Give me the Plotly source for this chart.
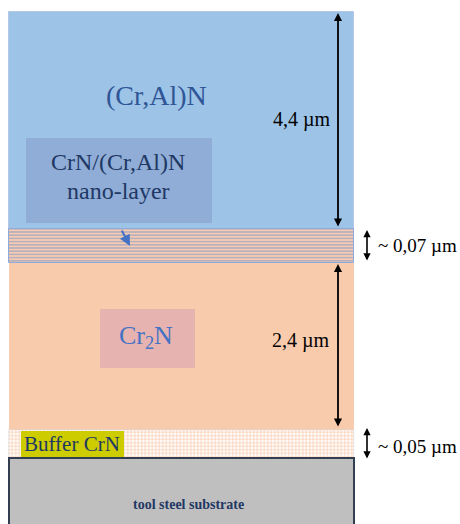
import plotly.graph_objects as go

# ---- data (diagram units: pixels of the schematic, y downward) ----
layer_names = ["(Cr,Al)N", "CrN/(Cr,Al)N nano-layer", "Cr2N", "Buffer CrN", "tool steel substrate"]
layer_top = [12, 229, 263, 430, 458]
layer_bottom = [229, 263, 430, 458, 530]
thickness_labels = ["4,4 µm", "~ 0,07 µm", "2,4 µm", "~ 0,05 µm"]

FONT = "Liberation Serif"
X0, X1 = 9, 354
xc = (X0 + X1) / 2
w = X1 - X0

fig = go.Figure()

def layer_bar(i, color, line_color, line_width, pattern=None):
    kw = dict(
        x=[xc], y=[layer_bottom[i] - layer_top[i]], base=[layer_top[i]], width=[w],
        marker=dict(color=color, line=dict(color=line_color, width=line_width)),
        showlegend=False, hoverinfo="skip", name=layer_names[i],
    )
    if pattern:
        kw["marker"]["pattern"] = pattern
    fig.add_trace(go.Bar(**kw))

layer_bar(0, "#9DC3E6", "#B4C7E7", 1)
layer_bar(1, "#F8CBAD", "#8FAADC", 1,
          dict(shape="-", fgcolor="#7196D6", bgcolor="#F8CBAD", size=3.2, solidity=0.5))
layer_bar(2, "#F8CBAD", "#F8CBAD", 0)
layer_bar(3, "#FFFFFF", "#D0CECE", 0.5,
          dict(shape=".", fgcolor="#F6B48A", bgcolor="#FFFFFF", size=3.5, solidity=0.6))
layer_bar(4, "#BFBFBF", "#333F50", 2)

shapes = [
    # nano-layer label box
    dict(type="rect", x0=26, x1=212, y0=138, y1=223, fillcolor="#8FADD6", line=dict(width=0), layer="above"),
    # Cr2N box
    dict(type="rect", x0=100, x1=195, y0=309, y1=368, fillcolor="#E6B3B0", line=dict(width=0), layer="above"),
    # yellow buffer label
    dict(type="rect", x0=21, x1=124, y0=431, y1=457, fillcolor="#CCCC00", line=dict(width=0), layer="above"),
]

ann = []
def txt(x, y, s, size, color="#000000", xanchor="center", bold=False):
    if bold:
        s = "<b>" + s + "</b>"
    ann.append(dict(x=x, y=y, text=s, showarrow=False, xanchor=xanchor, yanchor="middle",
                    font=dict(family=FONT, size=size, color=color)))

def darrow(x, y0, y1, width=2, head=0.9):
    # double-headed arrow
    ann.append(dict(x=x, y=y1, ax=x, ay=y0, axref="x", ayref="y", xref="x", yref="y",
                    text="", showarrow=True, arrowhead=2, arrowsize=head, arrowwidth=width,
                    arrowside="end+start", arrowcolor="#000000"))

txt(156, 95, layer_names[0], 28, "#2F5597")
txt(118, 162, "CrN/(Cr,Al)N", 24, "#1F3864")
txt(118, 191, "nano-layer", 24, "#1F3864")
txt(146, 337, "Cr<sub>2</sub>N", 26, "#4472C4")
txt(72, 444, layer_names[3], 21, "#1F3864")
txt(188, 504, layer_names[4], 14, "#1F3864", bold=True)

txt(333, 119, thickness_labels[0], 20, xanchor="right")
txt(376, 245, thickness_labels[1], 19, xanchor="left")
txt(332, 340, thickness_labels[2], 20, xanchor="right")
txt(376, 446, thickness_labels[3], 19, xanchor="left")

darrow(338, 228, 13, 1.8)
darrow(338, 428, 264, 1.8)
darrow(367, 262, 230, 1.6)
darrow(367, 460, 428, 1.6)

# small blue pointer into the nano-layer
ann.append(dict(x=130, y=246, ax=121, ay=229, axref="x", ayref="y", xref="x", yref="y",
                text="", showarrow=True, arrowhead=2, arrowsize=1.1, arrowwidth=2,
                arrowcolor="#4472C4"))

fig.update_layout(
    width=460, height=524, margin=dict(l=0, r=0, t=0, b=0),
    paper_bgcolor="white", plot_bgcolor="white",
    barmode="overlay", bargap=0,
    xaxis=dict(range=[0, 460], visible=False, fixedrange=True),
    yaxis=dict(range=[524, 0], visible=False, fixedrange=True),
    shapes=shapes, annotations=ann,
)

fig.write_html("out.html", config=dict(displayModeBar=False),
               post_script="document.body.style.margin='0';document.body.style.overflow='hidden';")
